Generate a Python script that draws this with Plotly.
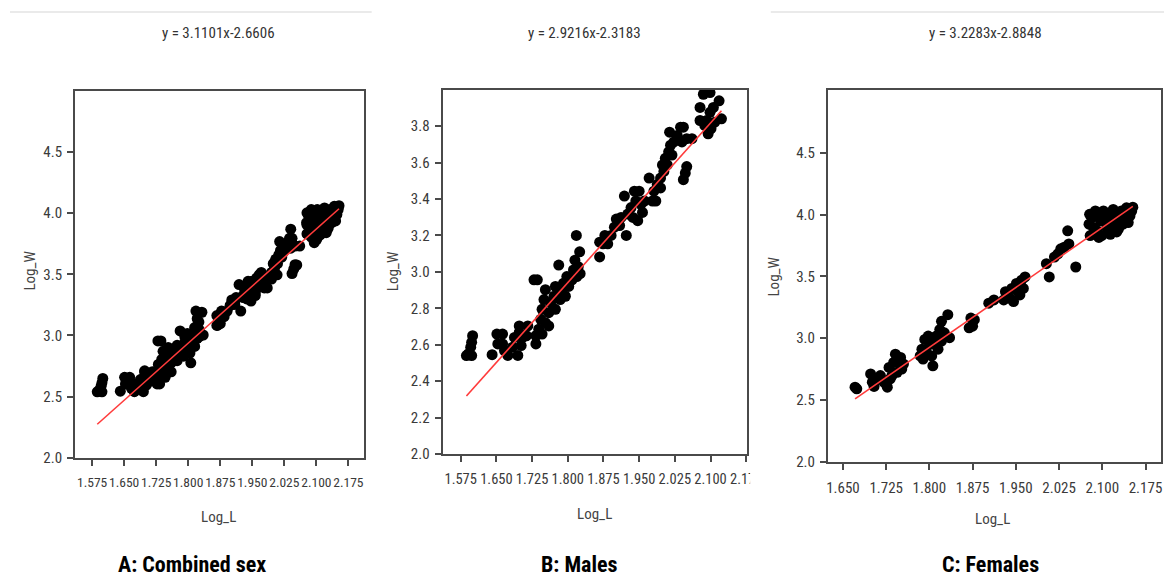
import plotly.graph_objects as go

# ---------------- data ----------------
male_logL = [1.587, 1.591, 1.598, 1.596, 1.598, 1.600, 1.641, 1.651, 1.653, 1.663,
             1.663, 1.667, 1.674, 1.684, 1.688, 1.695, 1.698, 1.698, 1.705, 1.702,
             1.713, 1.716, 1.729, 1.736, 1.733, 1.733, 1.739, 1.743, 1.746, 1.750,
             1.753, 1.746, 1.753, 1.760, 1.764, 1.771, 1.774, 1.781, 1.781, 1.784,
             1.791, 1.795, 1.798, 1.802, 1.809, 1.812, 1.815, 1.819, 1.822, 1.818,
             1.825, 1.826, 1.774, 1.788, 1.760, 1.867, 1.867, 1.874, 1.878, 1.884,
             1.891, 1.898, 1.902, 1.909, 1.912, 1.919, 1.923, 1.926, 1.933, 1.937,
             1.940, 1.943, 1.947, 1.950, 1.954, 1.957, 1.961, 1.971, 1.978, 1.985,
             1.981, 1.988, 1.995, 1.999, 2.002, 2.005, 2.009, 2.012, 2.016, 2.014,
             2.019, 2.023, 2.030, 2.037, 2.043, 2.040, 2.050, 2.061, 2.043, 2.047,
             2.050, 1.995, 2.078, 2.085, 2.099, 2.078, 2.088, 2.095, 2.101, 2.099,
             2.106, 2.109, 2.118, 2.123, 2.092]
male_logW = [2.540, 2.550, 2.540, 2.586, 2.613, 2.649, 2.545, 2.658, 2.604, 2.658,
             2.604, 2.568, 2.541, 2.586, 2.640, 2.541, 2.667, 2.703, 2.640, 2.595,
             2.649, 2.703, 2.956, 2.956, 2.604, 2.649, 2.685, 2.739, 2.794, 2.848,
             2.902, 2.658, 2.721, 2.776, 2.830, 2.866, 2.794, 3.037, 2.902, 2.848,
             2.938, 2.866, 2.974, 2.920, 2.956, 3.010, 3.064, 2.974, 3.028, 3.200,
             3.110, 2.990, 2.920, 2.893, 2.703, 3.082, 3.163, 3.154, 3.200, 3.154,
             3.200, 3.245, 3.290, 3.254, 3.299, 3.416, 3.200, 3.317, 3.353, 3.299,
             3.443, 3.389, 3.281, 3.443, 3.371, 3.326, 3.389, 3.515, 3.389, 3.389,
             3.443, 3.479, 3.515, 3.587, 3.551, 3.623, 3.587, 3.659, 3.695, 3.767,
             3.641, 3.713, 3.749, 3.794, 3.794, 3.713, 3.731, 3.731, 3.506, 3.542,
             3.578, 3.461, 3.903, 3.975, 3.984, 3.831, 3.804, 3.758, 3.786, 3.876,
             3.903, 3.822, 3.939, 3.840, 3.831]

female_logL = [1.671, 1.674, 1.698, 1.701, 1.707, 1.715, 1.704, 1.727, 1.730, 1.732,
               1.738, 1.741, 1.744, 1.747, 1.750, 1.752, 1.755, 1.735, 1.721, 1.787,
               1.789, 1.792, 1.795, 1.801, 1.804, 1.806, 1.809, 1.812, 1.815, 1.818,
               1.821, 1.821, 1.832, 1.835, 1.826, 1.798, 1.784, 1.869, 1.872, 1.878,
               1.875, 1.903, 1.912, 1.929, 1.932, 1.937, 1.943, 1.946, 1.951, 1.954,
               1.960, 1.963, 1.966, 1.940, 1.957, 2.003, 2.008, 2.017, 2.023, 2.028,
               2.034, 2.040, 2.042, 2.054, 2.077, 2.079, 2.082, 2.088, 2.091, 2.097,
               2.099, 2.102, 2.108, 2.111, 2.116, 2.119, 2.125, 2.128, 2.133, 2.136,
               2.142, 2.148, 2.153, 2.145, 2.085, 2.094, 2.105, 2.114, 2.122, 2.139,
               2.151, 2.078, 2.091, 2.114, 2.125]
female_logW = [2.604, 2.591, 2.711, 2.644, 2.671, 2.698, 2.610, 2.604, 2.764, 2.671,
               2.804, 2.871, 2.724, 2.804, 2.844, 2.751, 2.791, 2.698, 2.644, 2.911,
               2.831, 2.990, 2.884, 2.950, 2.857, 2.777, 2.964, 3.017, 2.911, 3.070,
               2.977, 3.137, 3.190, 3.004, 3.044, 3.017, 2.857, 3.084, 3.163, 3.150,
               3.097, 3.283, 3.310, 3.310, 3.376, 3.337, 3.403, 3.297, 3.443, 3.376,
               3.469, 3.403, 3.496, 3.323, 3.350, 3.603, 3.496, 3.656, 3.683, 3.723,
               3.736, 3.869, 3.763, 3.576, 3.922, 3.830, 3.975, 4.029, 3.869, 3.949,
               3.830, 4.029, 3.896, 3.989, 3.856, 4.042, 3.949, 3.882, 4.029, 3.922,
               4.055, 3.989, 4.060, 3.936, 3.896, 3.815, 3.949, 3.922, 4.002, 3.975,
               4.029, 4.002, 4.002, 3.840, 3.860]

combined_logL = male_logL + female_logL
combined_logW = male_logW + female_logW

panel_labels = ["A: Combined sex", "B: Males", "C: Females"]
slopes = [3.1101, 2.9216, 3.2283]
intercepts = [-2.6606, -2.3183, -2.8848]
equations = ["y = 3.1101x-2.6606", "y = 2.9216x-2.3183", "y = 3.2283x-2.8848"]

x_ticks = [[1.575, 1.650, 1.725, 1.800, 1.875, 1.950, 2.025, 2.100, 2.175],
           [1.575, 1.650, 1.725, 1.800, 1.875, 1.950, 2.025, 2.100, 2.175],
           [1.650, 1.725, 1.800, 1.875, 1.950, 2.025, 2.100, 2.175]]
y_ticks = [[2.0, 2.5, 3.0, 3.5, 4.0, 4.5],
           [2.0, 2.2, 2.4, 2.6, 2.8, 3.0, 3.2, 3.4, 3.6, 3.8],
           [2.0, 2.5, 3.0, 3.5, 4.0, 4.5]]
x_ranges = [[1.535, 2.211], [1.537, 2.177], [1.624, 2.202]]
y_ranges = [[2.0, 5.0], [2.0, 4.0], [2.0, 5.01]]

datasets = [(combined_logL, combined_logW), (male_logL, male_logW), (female_logL, female_logW)]

# ---------------- layout geometry ----------------
W, H = 1172, 579
boxes = [(66, 359, 84, 457), (439, 748, 83, 453), (830, 1168, 83, 461)]  # x0,x1,ytop,ybot in px
xtick_sizes = [13.5, 14.5, 15]


def px(x):
    return x / W


def py(y):
    return 1 - y / H


NARROW = "Liberation Sans Narrow, Roboto Condensed, Arial Narrow, sans-serif"
axis_color = "#4a4a4a"

fig = go.Figure()
layout = dict(
    width=W, height=H,
    margin=dict(l=0, r=0, t=0, b=0),
    paper_bgcolor="white", plot_bgcolor="white",
    showlegend=False,
)

for i, (xs, ys) in enumerate(datasets):
    n = "" if i == 0 else str(i + 1)
    xa, ya = "x" + n, "y" + n
    fig.add_trace(go.Scatter(x=xs, y=ys, mode="markers", xaxis=xa, yaxis=ya,
                             marker=dict(color="black", size=11, line=dict(width=0))))
    x_lo, x_hi = min(xs), max(xs)
    fig.add_trace(go.Scatter(x=[x_lo, x_hi],
                             y=[slopes[i] * x_lo + intercepts[i], slopes[i] * x_hi + intercepts[i]],
                             mode="lines", xaxis=xa, yaxis=ya,
                             line=dict(color="#ff3b3b", width=1.6)))
    x0, x1, yt, yb = boxes[i]
    common = dict(showline=True, linecolor=axis_color, linewidth=2, mirror=True,
                  ticks="outside", ticklen=6, tickwidth=1.5, tickcolor=axis_color,
                  showgrid=False, zeroline=False, tickangle=0)
    layout["xaxis" + n] = dict(common, domain=[px(x0), px(x1)], range=x_ranges[i],
                               tickvals=x_ticks[i], tickformat=".3f",
                               anchor=ya, ticklabelstandoff=5,
                               tickfont=dict(family=NARROW, size=xtick_sizes[i], color="#3a3a3a"))
    layout["yaxis" + n] = dict(common, domain=[py(yb), py(yt)], range=y_ranges[i],
                               tickvals=y_ticks[i], tickformat=".1f",
                               anchor=xa, ticklabelstandoff=2,
                               tickfont=dict(family=NARROW, size=15, color="#3a3a3a"))

fig.update_layout(**layout)

ann = []
eq_pos = [212, 583, 990]
xl_pos = [(212, 517), (593, 514), (997, 519)]
yl_pos = [(20, 267), (388, 267), (775, 273)]
lab_pos = [185, 578, 995]
for i in range(3):
    ann.append(dict(x=px(eq_pos[i]), y=py(25), xref="paper", yref="paper", text=equations[i],
                    showarrow=False, xanchor="center", yanchor="middle",
                    font=dict(family=NARROW, size=15, color="#333333")))
    ann.append(dict(x=px(xl_pos[i][0]), y=py(xl_pos[i][1]), xref="paper", yref="paper", text="Log_L",
                    showarrow=False, xanchor="center", yanchor="middle",
                    font=dict(family=NARROW, size=15, color="#444444")))
    ann.append(dict(x=px(yl_pos[i][0]), y=py(yl_pos[i][1]), xref="paper", yref="paper", text="Log_W",
                    showarrow=False, xanchor="center", yanchor="middle", textangle=-90,
                    font=dict(family=NARROW, size=15, color="#444444")))
    ann.append(dict(x=px(lab_pos[i]), y=py(565), xref="paper", yref="paper", text="<b>" + panel_labels[i] + "</b>",
                    showarrow=False, xanchor="center", yanchor="middle",
                    font=dict(family=NARROW, size=22, color="black")))

shapes = [
    dict(type="line", xref="paper", yref="paper", x0=0, x1=px(367), y0=py(4), y1=py(4),
         line=dict(color="#e3e3e3", width=1.5)),
    dict(type="line", xref="paper", yref="paper", x0=px(772), x1=1, y0=py(4), y1=py(4),
         line=dict(color="#e3e3e3", width=1.5)),
    # crop of panel B image at its right edge
    dict(type="rect", xref="paper", yref="paper", x0=px(751), x1=px(770), y0=py(490), y1=py(456),
         fillcolor="white", line=dict(width=0), layer="above"),
]
fig.update_layout(annotations=ann, shapes=shapes)

fig.write_html("out.html")
